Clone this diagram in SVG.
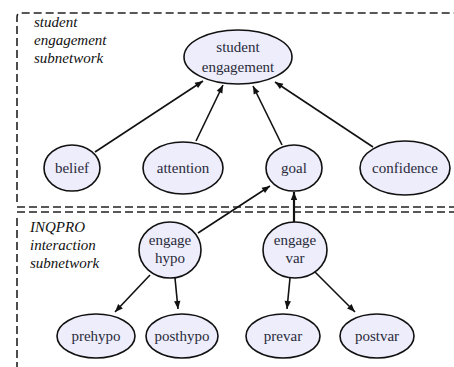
<svg xmlns="http://www.w3.org/2000/svg" width="454" height="367" viewBox="0 0 454 367">
<defs>
<style>
.box{fill:none;stroke:#222;stroke-width:1.6;stroke-dasharray:8 4}
.n ellipse{fill:#ededfb;stroke:#111;stroke-width:1.6}
.n text{font-size:15px;fill:#2a2a3a;text-anchor:middle}
.lab{font-size:15px;font-style:italic;fill:#111}
.e line{stroke:#111;stroke-width:1.6;marker-end:url(#ah)}
</style>
<marker id="ah" viewBox="0 0 10 10" refX="10" refY="5" markerWidth="10" markerHeight="8" markerUnits="userSpaceOnUse" orient="auto">
<path d="M0,1 L10,5 L0,9 z" fill="#111"/>
</marker>
</defs>
<rect width="454" height="367" fill="#fff"/>
<g id="subnet-boxes">
<path class="box" d="M17,202 V17 Q17,13 21,13 H460"/>
<path class="box" d="M17,207 H460"/>
<path class="box" d="M17,218 V370"/>
<path class="box" d="M17,212 H460"/>
</g>
<g id="labels" font-family="'Liberation Serif', 'DejaVu Serif', serif">
<text class="lab" x="34" y="27">student</text>
<text class="lab" x="34" y="45">engagement</text>
<text class="lab" x="34" y="63">subnetwork</text>
<text class="lab" x="30" y="232">INQPRO</text>
<text class="lab" x="30" y="250">interaction</text>
<text class="lab" x="30" y="268">subnetwork</text>
</g>
<g class="e" id="connectors">
<line x1="95" y1="152" x2="203" y2="81"/>
<line x1="196" y1="141" x2="223" y2="85"/>
<line x1="282" y1="145" x2="253" y2="86"/>
<line x1="373" y1="147" x2="275" y2="82"/>
<line x1="198" y1="233" x2="270" y2="186"/>
<line x1="294" y1="223" x2="294" y2="192" style="stroke-width:2.2"/>
<line x1="150" y1="275" x2="115" y2="312"/>
<line x1="175" y1="278" x2="178" y2="309"/>
<line x1="290" y1="278" x2="287" y2="309"/>
<line x1="315" y1="272" x2="355" y2="312"/>
</g>
<g id="nodes" font-family="'Liberation Serif', 'DejaVu Serif', serif">
<g class="n" id="student-engagement"><ellipse cx="238" cy="57" rx="54" ry="27"/><text x="238" y="52">student</text><text x="238" y="72">engagement</text></g>
<g class="n" id="belief"><ellipse cx="72" cy="168" rx="28" ry="23"/><text x="72" y="173">belief</text></g>
<g class="n" id="attention"><ellipse cx="183" cy="168" rx="40" ry="26"/><text x="183" y="173">attention</text></g>
<g class="n" id="goal"><ellipse cx="294" cy="168" rx="28" ry="23"/><text x="294" y="173">goal</text></g>
<g class="n" id="confidence"><ellipse cx="405" cy="168" rx="45" ry="27"/><text x="405" y="173">confidence</text></g>
<g class="n" id="engage-hypo"><ellipse cx="170" cy="250" rx="31" ry="28"/><text x="170" y="245">engage</text><text x="170" y="263">hypo</text></g>
<g class="n" id="engage-var"><ellipse cx="295" cy="250" rx="32" ry="28"/><text x="295" y="245">engage</text><text x="295" y="263">var</text></g>
<g class="n" id="prehypo"><ellipse cx="96" cy="336" rx="39" ry="22"/><text x="96" y="341">prehypo</text></g>
<g class="n" id="posthypo"><ellipse cx="182" cy="336" rx="36" ry="22"/><text x="182" y="341">posthypo</text></g>
<g class="n" id="prevar"><ellipse cx="283" cy="336" rx="37" ry="22"/><text x="283" y="341">prevar</text></g>
<g class="n" id="postvar"><ellipse cx="377" cy="336" rx="37" ry="22"/><text x="377" y="341">postvar</text></g>
</g>
</svg>
